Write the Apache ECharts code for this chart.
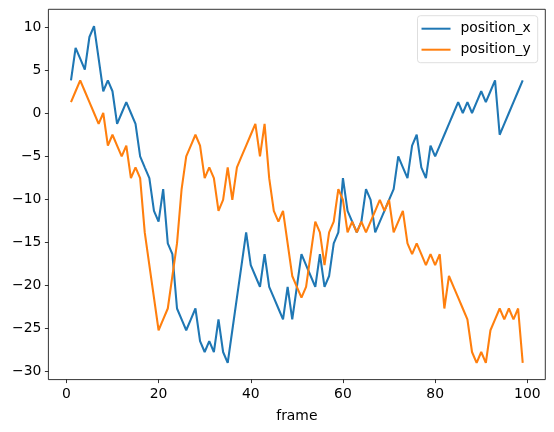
<!DOCTYPE html>
<html>
<head>
<meta charset="utf-8">
<script src="https://cdn.jsdelivr.net/npm/echarts@6/dist/echarts.min.js"></script>
<style>html,body{margin:0;padding:0;background:#fff;}#chart{width:554px;height:432px;}</style>
</head>
<body>
<div id="chart"></div>
<script>
const frames = [1,2,3,4,5,6,7,8,9,10,11,12,13,14,15,16,17,18,19,20,21,22,23,24,25,26,27,28,29,30,31,32,33,34,35,36,37,38,39,40,41,42,43,44,45,46,47,48,49,50,51,52,53,54,55,56,57,58,59,60,61,62,63,64,65,66,67,68,69,70,71,72,73,74,75,76,77,78,79,80,81,82,83,84,85,86,87,88,89,90,91,92,93,94,95,96,97,98,99];
const positionX = [3.79,7.58,6.32,5.05,8.84,10.1,6.32,2.53,3.79,2.53,
  -1.26,0,1.26,0,-1.26,-5.05,-6.32,-7.58,-11.37,-12.63,
  -8.84,-15.16,-16.42,-22.73,-24.0,-25.26,-24.0,-22.73,-26.52,-27.79,
  -26.52,-27.79,-24.0,-27.79,-29.05,-25.26,-21.47,-17.68,-13.89,-17.68,
  -18.95,-20.21,-16.42,-20.21,-21.47,-22.73,-24.0,-20.21,-24.0,-20.21,
  -16.42,-17.68,-18.95,-20.21,-16.42,-20.21,-18.95,-15.16,-13.89,-7.58,
  -11.37,-12.63,-13.89,-12.63,-8.84,-10.1,-13.89,-12.63,-11.37,-10.1,
  -8.84,-5.05,-6.32,-7.58,-3.79,-2.53,-6.32,-7.58,-3.79,-5.05,
  -3.79,-2.53,-1.26,0,1.26,0,1.26,0,1.26,2.53,
  1.26,2.53,3.79,-2.53,-1.26,0,1.26,2.53,3.79];
const positionY = [1.26,2.53,3.79,2.53,1.26,0,-1.26,0,-3.79,-2.53,
  -3.79,-5.05,-3.79,-7.58,-6.32,-7.58,-13.89,-17.68,-21.47,-25.26,
  -24.0,-22.73,-18.95,-15.16,-8.84,-5.05,-3.79,-2.53,-3.79,-7.58,
  -6.32,-7.58,-11.37,-10.1,-6.32,-10.1,-6.32,-5.05,-3.79,-2.53,
  -1.26,-5.05,-1.26,-7.58,-11.37,-12.63,-11.37,-15.16,-18.95,-20.21,
  -21.47,-20.21,-16.42,-12.63,-13.89,-17.68,-13.89,-12.63,-8.84,-10.1,
  -13.89,-12.63,-13.89,-12.63,-13.89,-12.63,-11.37,-10.1,-11.37,-10.1,
  -13.89,-12.63,-11.37,-15.16,-16.42,-15.16,-16.42,-17.68,-16.42,-17.68,
  -16.42,-22.73,-18.95,-20.21,-21.47,-22.73,-24.0,-27.79,-29.05,-27.79,
  -29.05,-25.26,-24.0,-22.73,-24.0,-22.73,-24.0,-22.73,-29.05];
const xTicks = [0,20,40,60,80,100];
const yTicks = [-30,-25,-20,-15,-10,-5,0,5,10];

const font = 'DejaVu Sans';
const fmt = v => String(v).replace('-', '\u2212');
const chart = echarts.init(document.getElementById('chart'), null, {renderer:'canvas'});
chart.setOption({
  animation:false,
  backgroundColor:'#ffffff',
  grid:{left:48.4, right:8.7, top:9.3, bottom:52.4, show:true, borderColor:'#000', borderWidth:0.8, containLabel:false},
  legend:{
    right:16.3, top:15.7, orient:'vertical', icon:'rect', itemWidth:29, itemHeight:2, itemGap:5,
    padding:[5,7,5,4], borderColor:'#d6d6d6', borderWidth:0.8, borderRadius:3, backgroundColor:'rgba(255,255,255,0.8)',
    textStyle:{fontFamily:font, fontSize:13.9, color:'#000', lineHeight:16, padding:[0,0,0,5]},
    data:['position_x','position_y']
  },
  xAxis:{
    type:'value', min:-3.9, max:103.9, name:'frame', nameLocation:'middle', nameGap:30,
    nameTextStyle:{fontFamily:font, fontSize:13.9, color:'#000'},
    axisLine:{show:false, onZero:false}, splitLine:{show:false},
    axisTick:{show:true, inside:false, length:3.5, lineStyle:{color:'#000', width:0.8}, customValues:xTicks},
    axisLabel:{fontFamily:font, fontSize:13.9, color:'#000', margin:8, customValues:xTicks, formatter:fmt}
  },
  yAxis:{
    type:'value', min:-31.0, max:12.06,
    axisLine:{show:false, onZero:false}, splitLine:{show:false},
    axisTick:{show:true, inside:false, length:3.5, lineStyle:{color:'#000', width:0.8}, customValues:yTicks},
    axisLabel:{fontFamily:font, fontSize:13.9, color:'#000', margin:7, customValues:yTicks, formatter:fmt}
  },
  series:[
    {name:'position_x', type:'line', symbol:'none', data:frames.map((f,i)=>[f,positionX[i]]),
     lineStyle:{color:'#1f77b4', width:2.08}, itemStyle:{color:'#1f77b4'}},
    {name:'position_y', type:'line', symbol:'none', data:frames.map((f,i)=>[f,positionY[i]]),
     lineStyle:{color:'#ff7f0e', width:2.08}, itemStyle:{color:'#ff7f0e'}}
  ]
});
</script>
</body>
</html>
